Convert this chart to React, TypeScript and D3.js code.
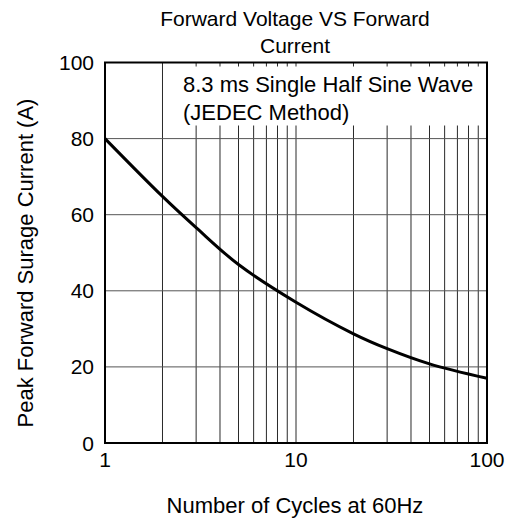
import React, { useEffect, useRef } from 'react';
import * as d3 from 'd3';

const cycles = [1, 2, 3, 5, 10, 20, 30, 50, 100];
const surgeCurrent = [80, 64.8, 56.6, 46.9, 37, 28.7, 24.8, 20.8, 17];
const yTicks = [0, 20, 40, 60, 80, 100];
const xTicks = [1, 10, 100];
const titleLines = ['Forward Voltage VS Forward', 'Current'];
const noteLines = ['8.3 ms Single Half Sine Wave', '(JEDEC Method)'];

export default function App() {
  const svgRef = useRef<SVGSVGElement | null>(null);
  const width = 508;
  const height = 519;
  const marginLeft = 105;
  const marginRight = 21;
  const marginTop = 62.5;
  const marginBottom = 76;

  useEffect(() => {
    const svg = d3.select(svgRef.current);
    svg.selectAll('*').remove();
    const font = '"Liberation Sans", Arial, sans-serif';

    const x = d3.scaleLog().domain([1, 100]).range([marginLeft, width - marginRight]);
    const y = d3.scaleLinear().domain([0, 100]).range([height - marginBottom, marginTop]);

    // grid (minor decades)
    const gridX: number[] = [];
    for (let dec = 1; dec < 100; dec *= 10) {
      for (let k = 2; k <= 10; k++) gridX.push(dec * k);
    }
    svg.append('g')
      .selectAll('line')
      .data(gridX)
      .join('line')
      .attr('x1', d => x(d)).attr('x2', d => x(d))
      .attr('y1', y(0)).attr('y2', y(100))
      .attr('stroke', '#2a2a2a').attr('stroke-width', 1);

    svg.append('g')
      .selectAll('line')
      .data(yTicks.slice(1, -1))
      .join('line')
      .attr('x1', x(1)).attr('x2', x(100))
      .attr('y1', d => y(d)).attr('y2', d => y(d))
      .attr('stroke', '#555').attr('stroke-width', 1);

    // white box behind the note
    svg.append('rect')
      .attr('x', 176).attr('y', marginTop + 4)
      .attr('width', x(100) - 176 - 1).attr('height', 59)
      .attr('fill', 'white');

    // frame
    svg.append('rect')
      .attr('x', x(1)).attr('y', y(100))
      .attr('width', x(100) - x(1)).attr('height', y(0) - y(100))
      .attr('fill', 'none').attr('stroke', 'black').attr('stroke-width', 2);

    // curve
    const line = d3.line<number>()
      .x((_, i) => x(cycles[i]))
      .y(d => y(d))
      .curve(d3.curveCatmullRom.alpha(0.5));
    svg.append('path')
      .datum(surgeCurrent)
      .attr('d', line)
      .attr('fill', 'none')
      .attr('stroke', 'black')
      .attr('stroke-width', 3);

    // tick labels
    svg.append('g')
      .selectAll('text')
      .data(yTicks)
      .join('text')
      .attr('x', marginLeft - 11)
      .attr('y', d => y(d) + 7.5)
      .attr('text-anchor', 'end')
      .attr('font-family', font).attr('font-size', 21)
      .text(d => d);

    svg.append('g')
      .selectAll('text')
      .data(xTicks)
      .join('text')
      .attr('x', d => x(d))
      .attr('y', y(0) + 24)
      .attr('text-anchor', 'middle')
      .attr('font-family', font).attr('font-size', 21)
      .text(d => d);

    // titles
    svg.append('g')
      .selectAll('text')
      .data(titleLines)
      .join('text')
      .attr('x', 295)
      .attr('y', (_, i) => 26 + i * 26.5)
      .attr('text-anchor', 'middle')
      .attr('font-family', font).attr('font-size', 21)
      .text(d => d);

    svg.append('g')
      .selectAll('text')
      .data(noteLines)
      .join('text')
      .attr('x', 183)
      .attr('y', (_, i) => 92 + i * 27.5)
      .attr('font-family', font).attr('font-size', 22)
      .text(d => d);

    svg.append('text')
      .attr('x', 295).attr('y', 513)
      .attr('text-anchor', 'middle')
      .attr('font-family', font).attr('font-size', 22)
      .text('Number of Cycles at 60Hz');

    svg.append('text')
      .attr('transform', `translate(33, 263) rotate(-90)`)
      .attr('text-anchor', 'middle')
      .attr('font-family', font).attr('font-size', 22)
      .text('Peak Forward Surage Current (A)');
  }, []);

  return (
    <svg ref={svgRef} width={width} height={height}
      style={{ position: 'absolute', left: 0, top: 0, background: 'white' }} />
  );
}
